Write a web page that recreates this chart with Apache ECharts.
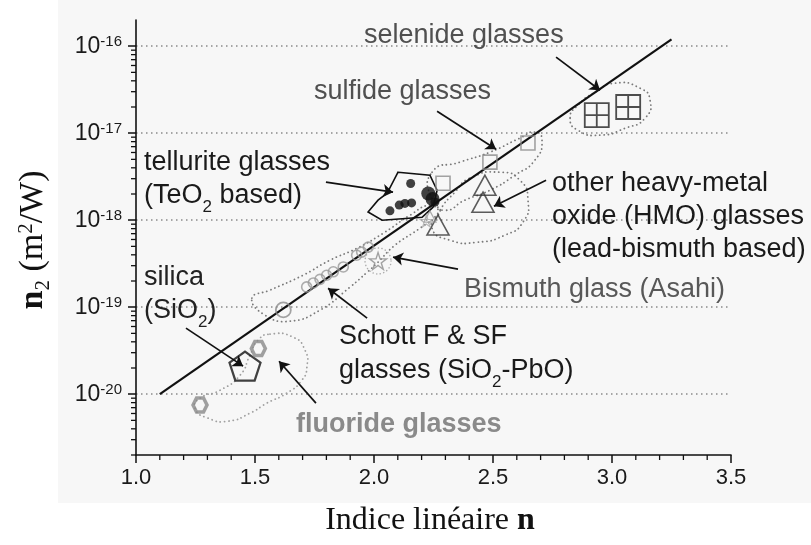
<!DOCTYPE html>
<html>
<head>
<meta charset="utf-8">
<script src="https://cdn.jsdelivr.net/npm/echarts@6/dist/echarts.min.js"></script>
<style>
  html, body { margin: 0; padding: 0; background: #fff; }
  #chart { width: 811px; height: 545px; }
</style>
</head>
<body>
<div id="chart"></div>
<script>
// ---- data (n, n2 in m2/W) ----
var fitLine = [[1.1, 1.0e-20], [3.25, 1.2e-16]];
var selenide = [[2.936, 1.61e-17], [3.068, 2.0e-17]];
var sulfide = [[2.29, 2.66e-18], [2.487, 4.65e-18], [2.647, 7.7e-18]];
var tellurite = [[2.154, 2.64e-18], [2.067, 1.28e-18], [2.106, 1.49e-18], [2.130, 1.56e-18], [2.158, 1.58e-18], [2.256, 1.62e-18]];
var telluriteBig = [[2.228, 2.03e-18], [2.246, 1.75e-18]];
var hmo = [[2.466, 2.52e-18], [2.458, 1.61e-18], [2.269, 8.8e-19]];
var hmoSmall = [[2.235, 1.1e-18]];
var bismuth = [[2.017, 3.4e-19]];
var bismuthSmall = [[2.22, 9.8e-19]];
var schott = [[1.717, 1.71e-19], [1.745, 1.9e-19], [1.773, 2.09e-19], [1.801, 2.33e-19], [1.829, 2.55e-19],
  [1.871, 2.9e-19], [1.927, 3.96e-19], [1.948, 4.3e-19], [1.976, 4.9e-19]];
var schottBig = [[1.619, 9.3e-20]];
var silica = [[1.458, 2.1e-20]];
var fluoride = [[1.514, 3.35e-20], [1.269, 7.5e-21]];

// outlines drawn round the groups
var seleniteLoop = [[2.824, 1.49e-17], [2.857, 1.08e-17], [2.950, 9.5e-18], [3.055, 1.14e-17], [3.139, 1.49e-17],
  [3.160, 2.39e-17], [3.118, 3.29e-17], [3.013, 3.76e-17], [2.929, 2.96e-17], [2.857, 2.10e-17]];
var sulfideLoop = [[2.244, 3.56e-18], [2.361, 4.65e-18], [2.487, 6.05e-18], [2.613, 8.77e-18], [2.676, 1.03e-17],
  [2.706, 8.3e-18], [2.676, 4.9e-18], [2.592, 3.29e-18], [2.487, 2.21e-18], [2.382, 1.70e-18], [2.298, 1.30e-18], [2.244, 1.70e-18]];
var hmoLoop = [[2.403, 3.04e-18], [2.529, 3.56e-18], [2.613, 2.88e-18], [2.647, 1.70e-18], [2.626, 9.5e-19],
  [2.550, 6.73e-19], [2.433, 5.58e-19], [2.319, 5.89e-19], [2.244, 8.09e-19], [2.277, 1.30e-18], [2.340, 2.10e-18]];
var schottLoop = [[1.487, 1.27e-19], [1.563, 1.57e-19], [1.702, 2.33e-19], [1.815, 3.47e-19], [1.929, 4.77e-19],
  [2.046, 7.28e-19], [2.151, 1.14e-18], [2.235, 1.49e-18], [2.277, 1.24e-18], [2.193, 8.09e-19], [2.088, 5.16e-19],
  [2.013, 3.21e-19], [1.971, 2.52e-19], [1.899, 1.70e-19], [1.773, 9.25e-20], [1.647, 6.9e-20], [1.542, 8.09e-20]];
var fluorideLoop = [[1.563, 4.9e-20], [1.660, 4.52e-20], [1.710, 3.21e-20], [1.718, 2.04e-20], [1.697, 1.45e-20],
  [1.634, 1.03e-20], [1.550, 7.9e-21], [1.479, 6.05e-21], [1.387, 4.9e-21], [1.303, 5.3e-21], [1.248, 6.9e-21],
  [1.269, 9.0e-21], [1.353, 1.11e-20], [1.437, 1.65e-20], [1.479, 2.81e-20], [1.513, 4.18e-20]];
var telluriteLoop = [[2.101, 3.56e-18], [2.235, 3.29e-18], [2.265, 2.21e-18], [2.248, 1.41e-18], [2.202, 1.08e-18],
  [2.034, 1.0e-18], [1.975, 1.24e-18], [2.017, 1.70e-18], [2.055, 2.04e-18]];

// arrows: from label to group
var arrows = [
  [[2.765, 7.48e-17], [2.95, 3.12e-17]],
  [[2.265, 1.79e-17], [2.513, 6.55e-18]],
  [[1.798, 2.74e-18], [2.080, 2.10e-18]],
  [[2.723, 2.88e-18], [2.504, 1.45e-18]],
  [[2.353, 2.74e-19], [2.080, 3.76e-19]],
  [[1.971, 7.48e-20], [1.807, 1.65e-19]],
  [[1.210, 5.74e-20], [1.450, 2.10e-20]],
  [[1.756, 7.9e-21], [1.601, 2.39e-20]]
];

var yMin = 2e-21, yMax = 2e-16;
// minor ticks: x every 0.1, y log 2..9 x 10^k
var xMinor = [1.1, 1.2, 1.3, 1.4, 1.6, 1.7, 1.8, 1.9, 2.1, 2.2, 2.3, 2.4, 2.6, 2.7, 2.8, 2.9, 3.1, 3.2, 3.3, 3.4];
var yMinor = [];
[-21, -20, -19, -18, -17, -16].forEach(function (k) {
  [2, 3, 4, 5, 6, 7, 8, 9].forEach(function (m) {
    var v = m * Math.pow(10, k);
    if (v >= yMin * 0.999 && v < yMax * 0.999) yMinor.push(v);
  });
});

var SANS = 'Liberation Sans, Arial, sans-serif';
var SERIF = 'Liberation Serif, Times New Roman, serif';

var notes = [
  ['selenide glasses', 364, 36, '#505050', 'normal'],
  ['sulfide glasses', 314, 92, '#505050', 'normal'],
  ['tellurite glasses', 144, 163, '#1a1a1a', 'normal'],
  ['(TeO{sub|2} based)', 144, 196, '#1a1a1a', 'normal'],
  ['other heavy-metal', 552, 184, '#1a1a1a', 'normal'],
  ['oxide (HMO) glasses', 552, 217, '#1a1a1a', 'normal'],
  ['(lead-bismuth based)', 552, 250, '#1a1a1a', 'normal'],
  ['Bismuth glass (Asahi)', 464, 290, '#585858', 'normal'],
  ['silica', 144, 278, '#222', 'normal'],
  ['(SiO{sub|2})', 144, 311, '#222', 'normal'],
  ['Schott F & SF', 339, 337, '#1a1a1a', 'normal'],
  ['glasses (SiO{sub|2}-PbO)', 339, 371, '#1a1a1a', 'normal'],
  ['fluoride glasses', 296, 425, '#8a8a8a', 'bold']
];

function noteText(n) {
  return {
    type: 'text', x: n[1], y: n[2], z: 10, silent: true,
    style: {
      text: n[0], fill: n[3], fontFamily: SANS, fontSize: 27, fontWeight: n[4],
      verticalAlign: 'middle', align: 'left',
      rich: {
        sub: { fontSize: 17, fill: n[3], verticalAlign: 'top', lineHeight: 16, padding: [16, 0, 0, 0] }
      }
    }
  };
}

function outline(points, style, smooth) {
  return {
    type: 'custom', z: 1, silent: true,
    data: [points[0]],
    renderItem: function (params, api) {
      var pts = points.map(function (p) { return api.coord(p); });
      return { type: 'polygon', shape: { points: pts, smooth: smooth }, style: style };
    }
  };
}

// minor ticks drawn through the axis scales (anchor item sits inside the grid)
function minorTicks() {
  return {
    type: 'custom', z: 5, silent: true, clip: false,
    data: [[2.0, 1e-18]],
    renderItem: function (params, api) {
      var kids = [];
      yMinor.forEach(function (v) {
        var p = api.coord([1.0, v]);
        kids.push({ type: 'line', shape: { x1: p[0] - 5, y1: p[1], x2: p[0], y2: p[1] }, style: { stroke: '#111', lineWidth: 1.3 } });
      });
      xMinor.forEach(function (v) {
        var p = api.coord([v, yMin]);
        kids.push({ type: 'line', shape: { x1: p[0], y1: p[1], x2: p[0], y2: p[1] + 5 }, style: { stroke: '#111', lineWidth: 1.3 } });
      });
      return { type: 'group', children: kids };
    }
  };
}

var dotted = { fill: 'none', stroke: '#7a7a7a', lineWidth: 1.8, lineDash: [0.1, 4.2], lineCap: 'round' };
var dottedLight = { fill: 'none', stroke: '#a0a0a0', lineWidth: 1.8, lineDash: [0.1, 4.2], lineCap: 'round' };
var none = 'rgba(0,0,0,0)';

var chart = echarts.init(document.getElementById('chart'));

var option = {
  animation: false,
  backgroundColor: '#fff',
  grid: { left: 136, right: 80, top: 20, bottom: 90 },
  xAxis: {
    type: 'value', min: 1.0, max: 3.5, interval: 0.5,
    axisLine: { onZero: false, lineStyle: { color: '#111', width: 1.6 } },
    axisTick: { show: true, length: 8, lineStyle: { color: '#111', width: 1.5 } },
    axisLabel: {
      color: '#1a1a1a', fontSize: 22, fontFamily: SANS, margin: 12,
      formatter: function (v) { return v.toFixed(1); }
    },
    splitLine: { show: false }
  },
  yAxis: {
    type: 'log', logBase: 10, min: yMin, max: yMax, splitNumber: 5,
    axisLine: { onZero: false, lineStyle: { color: '#111', width: 1.6 } },
    axisTick: { show: true, length: 8, lineStyle: { color: '#111', width: 1.5 } },
    axisLabel: {
      margin: 14, showMinLabel: false, showMaxLabel: false,
      formatter: function (v) {
        var e = Math.log10(v), r = Math.round(e);
        if (Math.abs(e - r) > 1e-6) return '';
        return '{b|10}{s|' + r + '}';
      },
      rich: {
        b: { fontSize: 23, color: '#1a1a1a', fontFamily: SANS, lineHeight: 23, padding: [5, 0, 0, 0], verticalAlign: 'bottom' },
        s: { fontSize: 15, color: '#1a1a1a', fontFamily: SANS, lineHeight: 15, verticalAlign: 'top' }
      }
    },
    splitLine: {
      show: true, showMinLine: false, showMaxLine: false,
      lineStyle: { color: '#8a8a8a', width: 1.6, type: [1.5, 3.5] }
    }
  },
  graphic: [
    { type: 'rect', z: -10, silent: true, shape: { x: 58, y: 0, width: 753, height: 503 }, style: { fill: '#f7f7f7' } },
    {
      type: 'text', x: 33, y: 240, rotation: Math.PI / 2, silent: true,
      style: {
        text: '{nb|n}{sb|2}{r| (m}{sp|2}{r|/W)}', align: 'center', verticalAlign: 'middle',
        rich: {
          nb: { fontFamily: SERIF, fontSize: 34, fontWeight: 'bold', fill: '#111', lineHeight: 34, verticalAlign: 'top' },
          sb: { fontFamily: SERIF, fontSize: 21, fill: '#111', lineHeight: 20, padding: [17, 0, 0, 0], verticalAlign: 'top' },
          r: { fontFamily: SERIF, fontSize: 34, fill: '#111', lineHeight: 34, verticalAlign: 'top' },
          sp: { fontFamily: SERIF, fontSize: 21, fill: '#111', lineHeight: 20, verticalAlign: 'top' }
        }
      }
    },
    {
      type: 'text', x: 430, y: 521, silent: true,
      style: {
        text: '{r|Indice linéaire }{b|n}', align: 'center', verticalAlign: 'middle',
        rich: {
          r: { fontFamily: SERIF, fontSize: 32, fill: '#111' },
          b: { fontFamily: SERIF, fontSize: 32, fontWeight: 'bold', fill: '#111' }
        }
      }
    }
  ].concat(notes.map(noteText)),
  series: [
    outline(seleniteLoop, dotted, 0.6),
    outline(sulfideLoop, dotted, 0.6),
    outline(hmoLoop, dotted, 0.6),
    outline(schottLoop, dotted, 0.5),
    outline(fluorideLoop, dottedLight, 0.6),
    outline(telluriteLoop, { fill: 'none', stroke: '#111', lineWidth: 1.6 }, 0),
    minorTicks(),
    {
      name: 'fit', type: 'line', data: fitLine, symbol: 'none', z: 3, silent: true,
      lineStyle: { color: '#111', width: 2.2 }
    },
    {
      name: 'selenide', type: 'scatter', data: selenide, z: 4, symbolSize: 24,
      symbol: 'path://M0,0L20,0L20,20L0,20Z M10,0L10,20 M0,10L20,10',
      itemStyle: { color: none, borderColor: '#222', borderWidth: 1.8 }
    },
    {
      name: 'sulfide', type: 'scatter', data: sulfide, z: 4, symbol: 'rect', symbolSize: 14,
      itemStyle: { color: none, borderColor: '#8c8c8c', borderWidth: 1.6 }
    },
    {
      name: 'tellurite', type: 'scatter', data: tellurite, z: 4, symbol: 'circle', symbolSize: 9,
      itemStyle: { color: '#111' }
    },
    {
      name: 'telluriteBig', type: 'scatter', data: telluriteBig, z: 4, symbol: 'circle', symbolSize: 14,
      itemStyle: { color: '#111' }
    },
    {
      name: 'hmo', type: 'scatter', data: hmo, z: 4, symbol: 'triangle', symbolSize: [22, 20],
      itemStyle: { color: none, borderColor: '#333', borderWidth: 1.6 }
    },
    {
      name: 'hmoSmall', type: 'scatter', data: hmoSmall, z: 4, symbol: 'triangle', symbolSize: [12, 11],
      itemStyle: { color: none, borderColor: '#999', borderWidth: 1.3 }
    },
    {
      name: 'bismuth', type: 'scatter', data: bismuth, z: 4, symbolSize: 17,
      symbol: 'path://M10,0L12.4,7.2L20,7.2L13.8,11.8L16.2,19L10,14.5L3.8,19L6.2,11.8L0,7.2L7.6,7.2Z',
      itemStyle: { color: none, borderColor: '#8c8c8c', borderWidth: 1.4 }
    },
    {
      name: 'bismuthRing', type: 'scatter', data: bismuth, z: 2, symbol: 'circle', symbolSize: 26,
      itemStyle: { color: none, borderColor: '#999', borderWidth: 1.5, borderType: [0.1, 3.5], borderCap: 'round' }
    },
    {
      name: 'bismuthSmall', type: 'scatter', data: bismuthSmall, z: 4, symbolSize: 12,
      symbol: 'path://M10,0L12.4,7.2L20,7.2L13.8,11.8L16.2,19L10,14.5L3.8,19L6.2,11.8L0,7.2L7.6,7.2Z',
      itemStyle: { color: none, borderColor: '#aaa', borderWidth: 1.2 }
    },
    {
      name: 'schott', type: 'scatter', data: schott, z: 4, symbol: 'circle', symbolSize: 10,
      itemStyle: { color: none, borderColor: '#999', borderWidth: 1.6 }
    },
    {
      name: 'schottBig', type: 'scatter', data: schottBig, z: 4, symbol: 'circle', symbolSize: 15,
      itemStyle: { color: none, borderColor: '#8c8c8c', borderWidth: 1.8 }
    },
    {
      name: 'silica', type: 'scatter', data: silica, z: 4, symbolSize: [31, 29],
      symbol: 'path://M10,0L19.5,6.9L15.9,18.1L4.1,18.1L0.5,6.9Z',
      itemStyle: { color: none, borderColor: '#111', borderWidth: 2.2 }
    },
    {
      name: 'fluoride', type: 'scatter', data: fluoride, z: 4, symbolSize: 14,
      symbol: 'path://M5,0L15,0L20,8.66L15,17.32L5,17.32L0,8.66Z',
      itemStyle: { color: none, borderColor: '#888', borderWidth: 3.5 }
    },
    {
      name: 'arrows', type: 'lines', coordinateSystem: 'cartesian2d', z: 6, silent: true,
      symbol: ['none', 'arrow'], symbolSize: 10,
      lineStyle: { color: '#111', width: 1.7, opacity: 1, curveness: 0 },
      data: arrows.map(function (a) { return { coords: a }; })
    }
  ]
};

chart.setOption(option);
</script>
</body>
</html>
